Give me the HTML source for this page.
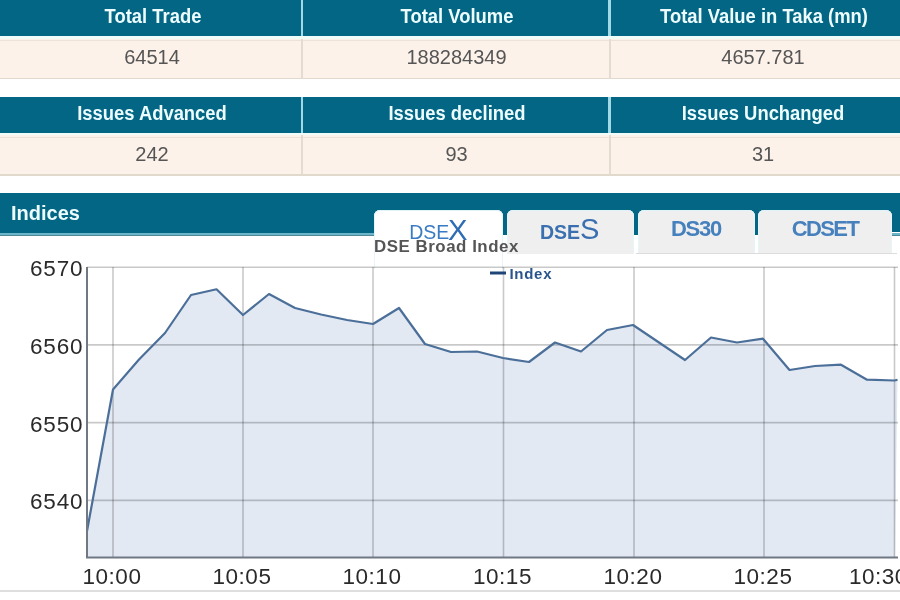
<!DOCTYPE html>
<html><head><meta charset="utf-8">
<style>
html,body{margin:0;padding:0;background:#fff;width:900px;height:600px;overflow:hidden;position:relative;font-family:"Liberation Sans",sans-serif;}
.abs{position:absolute;}
.hd{position:absolute;background:#036684;height:36px;left:0;width:900px;}
.vs{position:absolute;background:#a2d9e4;width:2.5px;height:38px;}
.wl{position:absolute;background:#effcf8;height:2.5px;left:0;width:900px;}
.row{position:absolute;background:#fcf2ea;left:0;width:900px;height:40px;}
.tl{position:absolute;background:#ebe3d8;height:1px;left:0;width:900px;}
.bl{position:absolute;background:#e2d9cd;height:1.5px;left:0;width:900px;}
.vb{position:absolute;background:#e4dcd0;width:2px;height:40px;}
.ht{position:absolute;color:#ecfcff;font-weight:bold;font-size:20px;white-space:nowrap;line-height:20px;width:400px;text-align:center;transform:scaleX(0.92);transform-origin:center;}
.dt{position:absolute;color:#555;font-size:20px;white-space:nowrap;line-height:20px;width:400px;text-align:center;}
.tab{position:absolute;top:209.6px;background:#efefef;border-radius:6px 6px 0 0;box-shadow:inset 0 1px 0 #dff3f8, inset 1px 0 0 #e6f5f8, inset -1px 0 0 #e6f5f8;}
.tt{position:absolute;color:#4680bd;font-weight:bold;font-size:22px;letter-spacing:-1.2px;white-space:nowrap;line-height:22px;width:200px;text-align:center;top:217.5px;}
</style></head><body><div style="position:absolute;left:0;top:0;width:900px;height:600px;will-change:transform;">

<!-- table 1 -->
<div class="hd" style="top:0;"></div>
<div class="vs" style="left:300.5px;top:0;"></div>
<div class="vs" style="left:608px;top:0;"></div>
<div class="wl" style="top:36px;"></div>
<div class="row" style="top:38.5px;"></div>
<div class="tl" style="top:40px;"></div>
<div class="bl" style="top:77.5px;"></div>
<div class="vb" style="left:301px;top:38.5px;"></div>
<div class="vb" style="left:608.5px;top:38.5px;"></div>

<div class="ht" style="left:-47.5px;top:6px;">Total Trade</div>
<div class="ht" style="left:256.5px;top:6px;">Total Volume</div>
<div class="ht" style="left:564.4px;top:6px;">Total Value in Taka (mn)</div>
<div class="dt" style="left:-48px;top:47px;">64514</div>
<div class="dt" style="left:256.5px;top:47px;">188284349</div>
<div class="dt" style="left:563px;top:47px;">4657.781</div>

<!-- table 2 -->
<div class="hd" style="top:96.5px;"></div>
<div class="vs" style="left:300.5px;top:96.5px;"></div>
<div class="vs" style="left:608px;top:96.5px;"></div>
<div class="wl" style="top:132.5px;"></div>
<div class="row" style="top:135px;"></div>
<div class="tl" style="top:136.5px;"></div>
<div class="bl" style="top:174px;"></div>
<div class="vb" style="left:301px;top:135px;"></div>
<div class="vb" style="left:608.5px;top:135px;"></div>

<div class="ht" style="left:-48px;top:103px;">Issues Advanced</div>
<div class="ht" style="left:256.5px;top:103px;">Issues declined</div>
<div class="ht" style="left:563px;top:103px;">Issues Unchanged</div>
<div class="dt" style="left:-48px;top:144px;">242</div>
<div class="dt" style="left:256.5px;top:144px;">93</div>
<div class="dt" style="left:563px;top:144px;">31</div>

<!-- indices header -->
<div class="abs" style="left:0;top:193px;width:900px;height:39.5px;background:#036684"></div>
<div class="abs" style="left:0;top:232.5px;width:900px;height:2px;background:#6db5c8"></div>
<div class="abs" style="left:0;top:234.5px;width:900px;height:1.5px;background:#4f8998"></div>
<div class="abs" style="left:11px;top:203.2px;color:#ecfcff;font-weight:bold;font-size:20px;line-height:20px;">Indices</div>

<!-- tabs -->
<div class="abs" style="left:503px;top:225px;width:4px;height:11px;background:#036684;border-radius:0 0 2px 2px"></div>
<div class="abs" style="left:634px;top:225px;width:4px;height:11px;background:#036684;border-radius:0 0 2px 2px"></div>
<div class="abs" style="left:755px;top:225px;width:3px;height:11px;background:#036684;border-radius:0 0 2px 2px"></div>
<div class="abs" style="left:374px;top:236px;width:526px;height:30px;background:#fff"></div><div class="abs" style="left:374px;top:232px;width:526px;height:4px;background:#fff"></div>
<div class="abs" style="left:503px;top:232px;width:4px;height:3px;background:#036684;"></div>
<div class="abs" style="left:634px;top:232px;width:4px;height:3px;background:#036684;"></div>
<div class="abs" style="left:755px;top:232px;width:3px;height:3px;background:#036684;"></div>
<div class="abs" style="left:892px;top:232.5px;width:8px;height:2px;background:#6db5c8"></div>
<div class="abs" style="left:892px;top:234.5px;width:8px;height:1.5px;background:#4f8998"></div>
<div class="abs" style="left:636px;top:252.5px;width:261px;height:1.5px;background:#dcdcdc"></div>

<div class="tab" style="left:374px;width:129px;height:59px;background:#fff;"></div>
<div class="tab" style="left:507px;width:127px;height:44px;"></div>
<div class="tab" style="left:638px;width:117px;height:43px;"></div>
<div class="tab" style="left:758px;width:134px;height:43px;"></div>

<div class="abs" id="dsex1" style="left:409.2px;top:222.6px;color:#3a7cc4;white-space:nowrap;font-size:19.5px;line-height:19.5px;">DSE</div>
<div class="abs" id="dsex2" style="left:448.3px;top:214.6px;color:#2f6cb4;white-space:nowrap;font-size:29.5px;line-height:29.5px;transform:scaleX(0.99);transform-origin:left top;">X</div>
<div class="abs" id="dses1" style="left:540px;top:222.6px;color:#3a70b0;white-space:nowrap;font-size:19.5px;line-height:19.5px;font-weight:bold;">DSE</div>
<div class="abs" id="dses2" style="left:579.8px;top:214.2px;color:#3a70b0;white-space:nowrap;font-size:30px;line-height:30px;transform:scaleX(0.97);transform-origin:left top;">S</div>
<div class="tt" style="left:596px;">DS30</div>
<div class="tt" style="left:725px;letter-spacing:-1.6px;">CDSET</div>

<div class="abs" style="left:374px;top:239px;font-size:16px;font-weight:bold;color:#555;white-space:nowrap;letter-spacing:0.5px;line-height:16px;transform:scaleX(1.055);transform-origin:left top;">DSE Broad Index</div>

<!-- chart -->
<svg class="abs" style="left:0;top:0" width="900" height="600" viewBox="0 0 900 600">
<path d="M87,531 L113,389.5 L139,359.5 L165,333 L191,295 L216.5,289.3 L243,315 L269,294 L295,308 L321,314.5 L347,320 L373,324 L399,308 L425,344 L451,352 L477,351.5 L503,358 L529,362 L555,342.5 L581,351.5 L607,330 L633,325 L659,342.5 L685,360 L711,337.5 L737,342.5 L763,338.7 L789.5,370 L815,366 L841,364.7 L867,379.7 L894.5,380.5 L897.5,379.7 L895,557 L87,557 Z" fill="#e2e9f3" stroke="none"/>
<g stroke="rgba(0,0,0,0.21)" stroke-width="1.6" fill="none"><line x1="87" y1="267.3" x2="898" y2="267.3"/><line x1="87" y1="344.9" x2="898" y2="344.9"/><line x1="87" y1="422.6" x2="898" y2="422.6"/><line x1="87" y1="500.4" x2="898" y2="500.4"/><line x1="113" y1="267" x2="113" y2="557"/><line x1="243" y1="267" x2="243" y2="557"/><line x1="373" y1="267" x2="373" y2="557"/><line x1="503.5" y1="267" x2="503.5" y2="557"/><line x1="634" y1="267" x2="634" y2="557"/><line x1="764" y1="267" x2="764" y2="557"/><line x1="894.5" y1="267" x2="894.5" y2="557"/></g>
<path d="M87,531 L113,389.5 L139,359.5 L165,333 L191,295 L216.5,289.3 L243,315 L269,294 L295,308 L321,314.5 L347,320 L373,324 L399,308 L425,344 L451,352 L477,351.5 L503,358 L529,362 L555,342.5 L581,351.5 L607,330 L633,325 L659,342.5 L685,360 L711,337.5 L737,342.5 L763,338.7 L789.5,370 L815,366 L841,364.7 L867,379.7 L894.5,380.5 L897.5,379.7" fill="none" stroke="#4b6f99" stroke-width="2.2" stroke-linejoin="round"/>
<line x1="87" y1="267" x2="87" y2="558" stroke="#6f7883" stroke-width="2"/>
<line x1="86" y1="557.4" x2="898" y2="557.4" stroke="#6f7883" stroke-width="2"/>
<g font-family="Liberation Sans" font-size="22.5" fill="#2a2a2a" letter-spacing="0.8"><text x="83.3" y="276.3" text-anchor="end">6570</text><text x="83.3" y="353.9" text-anchor="end">6560</text><text x="83.3" y="431.6" text-anchor="end">6550</text><text x="83.3" y="509.4" text-anchor="end">6540</text></g><g font-family="Liberation Sans" font-size="22.5" fill="#2a2a2a" letter-spacing="0.5"><text x="112" y="584" text-anchor="middle">10:00</text><text x="242" y="584" text-anchor="middle">10:05</text><text x="372" y="584" text-anchor="middle">10:10</text><text x="502.5" y="584" text-anchor="middle">10:15</text><text x="633" y="584" text-anchor="middle">10:20</text><text x="763" y="584" text-anchor="middle">10:25</text><text x="849" y="584">10:30</text></g>
<line x1="490" y1="273" x2="506" y2="273" stroke="#1e4478" stroke-width="3"/>
<text x="509.5" y="279" font-family="Liberation Sans" font-weight="bold" font-size="15" fill="#2a558c" letter-spacing="0.7">Index</text>
</svg>

<div class="abs" style="left:0;top:590px;width:900px;height:1.5px;background:#dedede"></div>
</div></body></html>
